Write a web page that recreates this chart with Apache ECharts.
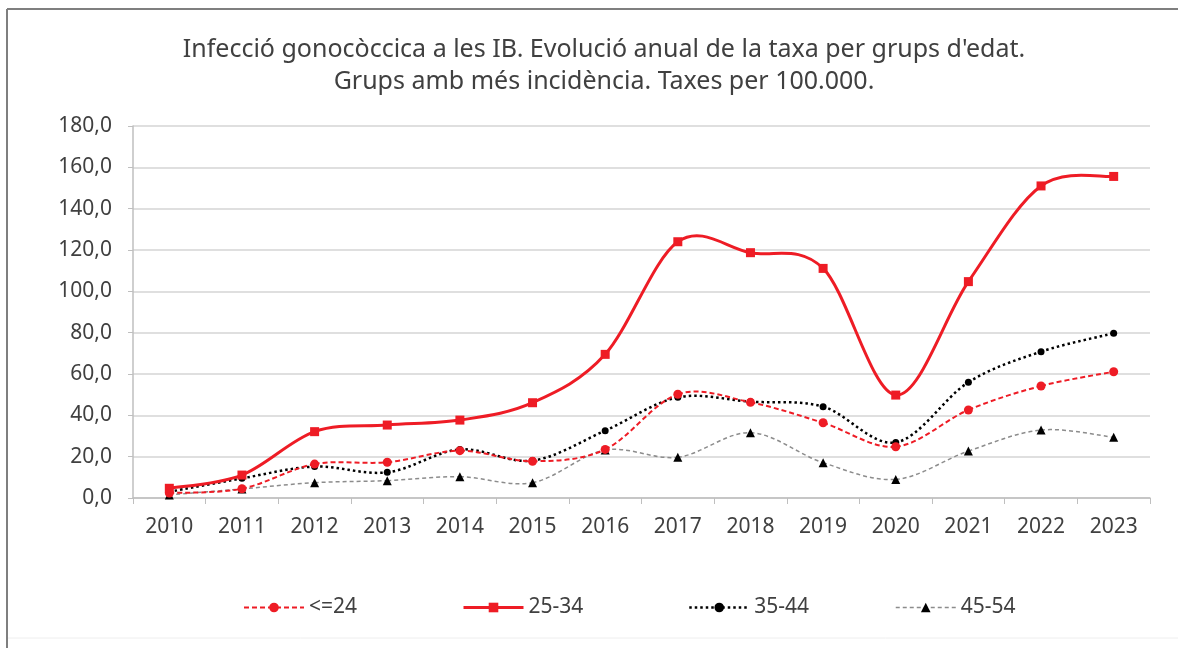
<!DOCTYPE html>
<html>
<head>
<meta charset="utf-8">
<script src="https://cdn.jsdelivr.net/npm/echarts@6.0.0/dist/echarts.min.js"></script>
<style>
  html, body { margin: 0; padding: 0; background: #fff; }
  #chart { width: 1178px; height: 648px; }
</style>
</head>
<body>
<div id="chart"></div>
<script>
// Infecció gonocòccica - taxes per 100.000 per grup d'edat
const years = ["2010", "2011", "2012", "2013", "2014", "2015", "2016", "2017", "2018", "2019", "2020", "2021", "2022", "2023"]
const under24 = [2.4, 4.5, 16.4, 17.3, 22.9, 17.8, 23.5, 50.2, 46.3, 36.4, 24.8, 42.6, 54.2, 61.1]
const age25to34 = [4.7, 11.1, 32.1, 35.3, 37.7, 46.1, 69.5, 124.0, 118.7, 111.1, 49.8, 104.7, 151.0, 155.6]
const age35to44 = [3.0, 9.5, 15.2, 12.4, 23.5, 18.1, 32.6, 48.7, 46.6, 44.2, 26.9, 56.0, 70.8, 79.7]
const age45to54 = [1.5, 4.4, 7.4, 8.4, 10.3, 7.4, 23.2, 19.7, 31.6, 17.1, 9.0, 22.7, 32.9, 29.4]
const legendNames = ["<=24", "25-34", "35-44", "45-54"]

const textColor = "#404040"
const red = "#ee1c25"
const fontFamily = "'Noto Sans', 'Open Sans', sans-serif"

const styles = {
  "<=24": { color: red, width: 2, dash: [5, 3], symbol: "circle", size: 9, markColor: red },
  "25-34": { color: red, width: 3, dash: null, symbol: "rect", size: 9, markColor: red },
  "35-44": { color: "#000", width: 2.5, dash: [2.5, 3], symbol: "circle", size: 7, markColor: "#000" },
  "45-54": { color: "#8c8c8c", width: 1.5, dash: [4, 3], symbol: "triangle", size: 9, markColor: "#000" },
}

const chart = echarts.init(document.getElementById("chart"))

function legendAt(name, left) {
  const s = styles[name]
  return {
    data: [name],
    left: left,
    top: 592,
    itemWidth: 60,
    itemHeight: 12,
    textStyle: { color: textColor, fontSize: 21, fontFamily },
    lineStyle: { color: s.color, width: s.width, type: s.dash || "solid", opacity: 1 },
    selectedMode: false,
  }
}

// excel-style smoothed curve: one cubic bezier per segment (catmull-rom)
function curveSeries(name, values, z) {
  const s = styles[name]
  const n = values.length
  return {
    name: name + " curve",
    type: "custom",
    silent: true,
    z: z,
    data: values.map((v, i) => [i, v]),
    renderItem(params, api) {
      const i = params.dataIndex
      if (i >= n - 1) return { type: "group", children: [] }
      const pt = (k) => {
        const c = Math.max(0, Math.min(n - 1, k))
        return api.coord([c, values[c]])
      }
      const p0 = pt(i - 1), p1 = pt(i), p2 = pt(i + 1), p3 = pt(i + 2)
      return {
        type: "bezierCurve",
        shape: {
          x1: p1[0], y1: p1[1],
          cpx1: p1[0] + (p2[0] - p0[0]) / 6, cpy1: p1[1] + (p2[1] - p0[1]) / 6,
          cpx2: p2[0] - (p3[0] - p1[0]) / 6, cpy2: p2[1] - (p3[1] - p1[1]) / 6,
          x2: p2[0], y2: p2[1],
        },
        style: { stroke: s.color, lineWidth: s.width, lineDash: s.dash, fill: null },
      }
    },
  }
}

function markerSeries(name, values, z) {
  const s = styles[name]
  return {
    name: name,
    type: "line",
    data: values,
    symbol: s.symbol,
    symbolSize: s.size,
    showSymbol: true,
    itemStyle: { color: s.markColor },
    lineStyle: { color: s.color, width: s.width, type: s.dash || "solid", opacity: 0 },
    z: z,
  }
}

chart.setOption({
  backgroundColor: "#fff",
  animation: false,
  title: {
    text: "Infecció gonocòccica a les IB. Evolució anual de la taxa per grups d'edat.\nGrups amb més incidència. Taxes per 100.000.",
    left: 599,
    top: 29,
    textAlign: "center",
    textStyle: { color: textColor, fontSize: 25, fontWeight: "normal", lineHeight: 32, fontFamily },
  },
  legend: [
    legendAt(legendNames[0], 238),
    legendAt(legendNames[1], 457),
    legendAt(legendNames[2], 683),
    legendAt(legendNames[3], 890),
  ],
  grid: { left: 133, right: 28, top: 126, bottom: 150 },
  xAxis: {
    type: "category",
    data: years,
    boundaryGap: true,
    axisLine: { lineStyle: { color: "#bfbfbf", width: 1.5 } },
    axisTick: { show: true, length: 6, lineStyle: { color: "#bfbfbf" } },
    axisLabel: { color: textColor, fontSize: 21, margin: 19, fontFamily },
  },
  yAxis: {
    type: "value",
    min: 0,
    max: 180,
    interval: 20,
    axisLine: { show: true, lineStyle: { color: "#bfbfbf", width: 1.5 } },
    axisTick: { show: true, length: 5, lineStyle: { color: "#bfbfbf" } },
    splitLine: { lineStyle: { color: "#d4d4d4", width: 1.5 } },
    axisLabel: {
      color: textColor,
      fontSize: 21,
      margin: 21,
      fontFamily,
      formatter: (v) => v.toFixed(1).replace(".", ","),
    },
  },
  graphic: [
    { type: "line", shape: { x1: 7, y1: 9, x2: 7, y2: 648 }, style: { stroke: "#7f7f7f", lineWidth: 2 } },
    { type: "line", shape: { x1: 7, y1: 9, x2: 1178, y2: 9 }, style: { stroke: "#7f7f7f", lineWidth: 2 } },
    { type: "line", shape: { x1: 8, y1: 638, x2: 1178, y2: 638 }, style: { stroke: "#eeeeee", lineWidth: 1 } },
  ],
  series: [
    curveSeries(legendNames[3], age45to54, 2),
    curveSeries(legendNames[2], age35to44, 3),
    curveSeries(legendNames[0], under24, 4),
    curveSeries(legendNames[1], age25to34, 5),
    markerSeries(legendNames[3], age45to54, 6),
    markerSeries(legendNames[2], age35to44, 7),
    markerSeries(legendNames[0], under24, 8),
    markerSeries(legendNames[1], age25to34, 9),
  ],
})
</script>
</body>
</html>
